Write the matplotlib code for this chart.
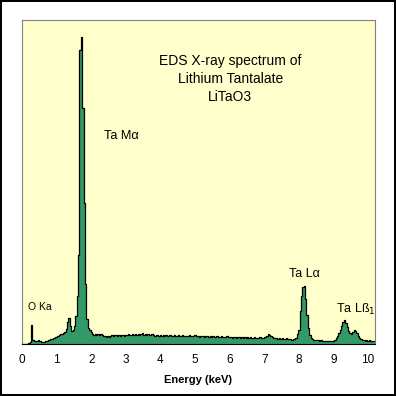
import matplotlib
matplotlib.use("Agg")
import matplotlib.pyplot as plt
import numpy as np

plt.rcParams['font.family'] = ['Liberation Sans', 'DejaVu Sans']

# spectrum channels, 0.04 keV wide, counts in arbitrary units
channel_width = 0.04
counts = [
    0, 0, 0, 0, 0, 1, 2, 19, 4, 3,              # 0.00 - 0.36
    3, 3, 4, 3, 2, 2, 2, 3, 3, 4,               # 0.40
    4, 5, 5, 6, 7, 7, 8, 9, 10, 10,             # 0.80
    11, 12, 15, 22, 26, 18, 13, 14, 18, 28,     # 1.20
    48, 89, 294, 307, 236, 141, 60, 25, 16, 14, # 1.60
    12, 10, 9, 10, 9, 10, 9, 10, 9, 8,          # 2.00
    8, 7, 8, 7, 8, 9, 8, 9, 9, 8,               # 2.40
    9, 8, 9, 9, 8, 9, 9, 10, 9, 9,              # 2.80
    10, 9, 10, 9, 10, 9, 10, 11, 9, 10,         # 3.20
    9, 10, 9, 9, 10, 9, 8, 9, 9, 8,             # 3.60
    9, 8, 9, 8, 9, 8, 8, 9, 8, 8,               # 4.00
    9, 8, 8, 9, 8, 8, 9, 8, 8, 8,               # 4.40
    8, 9, 8, 8, 8, 9, 8, 8, 7, 8,               # 4.80
    8, 8, 7, 8, 8, 7, 8, 7, 8, 7,               # 5.20
    7, 8, 7, 7, 8, 7, 7, 7, 8, 7,               # 5.60
    7, 7, 6, 7, 7, 6, 7, 7, 6, 7,               # 6.00
    6, 7, 6, 7, 6, 7, 6, 6, 7, 6,               # 6.40
    6, 6, 7, 6, 6, 7, 7, 8, 10, 9,              # 6.80
    8, 7, 6, 6, 6, 5, 6, 5, 6, 5,               # 7.20
    5, 6, 5, 5, 5, 4, 5, 5, 6, 10,              # 7.60
    14, 33, 48, 57, 58, 45, 29, 16, 9, 6,       # 8.00
    5, 4, 4, 4, 4, 3, 4, 3, 3, 3,               # 8.40
    3, 3, 3, 3, 3, 3, 4, 6, 8, 11,              # 8.80
    14, 18, 22, 24, 21, 17, 13, 11, 10, 12,     # 9.20
    14, 13, 11, 8, 6, 5, 4, 4, 3, 4,            # 9.60
    3, 4, 3, 3, 3, 3, 3,                        # 10.00 - 10.24
]
energy = np.arange(len(counts)) * channel_width

ticks = list(range(0, 11))

fill_color = '#339966'
bg_color = '#FFFFCC'

fig = plt.figure(figsize=(3.96, 3.96), dpi=100)
fig.patch.set_facecolor('white')
fig.patch.set_edgecolor('black')
fig.patch.set_linewidth(1.5)

ax = fig.add_axes([22 / 396, 52 / 396, 353 / 396, 324 / 396])
ax.set_facecolor(bg_color)

ax.fill_between(energy, counts, step='mid', color=fill_color, linewidth=0)
ax.plot(energy, counts, drawstyle='steps-mid', color='black', linewidth=0.9)

ax.set_xlim(0, 10.2)
ax.set_ylim(0, 324)
ax.set_xticks(ticks)
ax.set_xticklabels([str(t) for t in ticks], fontsize=8.5)
ax.tick_params(axis='x', length=0, pad=7.5)
ax.set_yticks([])

for side in ['left', 'top', 'right']:
    ax.spines[side].set_color('#808080')
    ax.spines[side].set_linewidth(0.8)
ax.spines['bottom'].set_color('black')
ax.spines['bottom'].set_linewidth(0.8)

ax.set_xlabel('Energy (keV)', fontsize=8, fontweight='bold', labelpad=6)

ax.text(6.02, 265, 'EDS X-ray spectrum of\nLithium Tantalate\nLiTaO3',
        ha='center', va='center', fontsize=10, linespacing=1.33)
ax.text(2.36, 208, 'Ta M\u03b1', ha='left', va='center', fontsize=9.2)
ax.text(0.185, 37, 'O Ka', ha='left', va='center', fontsize=7.5)
ax.text(7.71, 70, 'Ta L\u03b1', ha='left', va='center', fontsize=9)
ax.text(9.07, 35, 'Ta L\u00df$_1$', ha='left', va='center', fontsize=9)

fig.savefig('out.png', dpi=100)
